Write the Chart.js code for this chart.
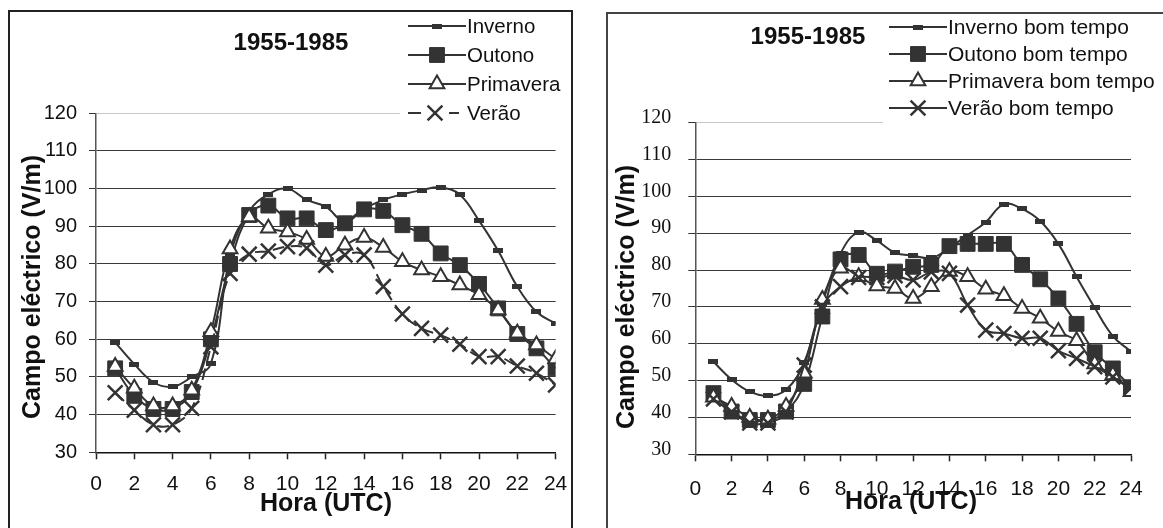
<!DOCTYPE html>
<html>
<head>
<meta charset="utf-8">
<script src="https://cdn.jsdelivr.net/npm/chart.js@4.4.0/dist/chart.umd.min.js"></script>
<style>
  html, body { margin: 0; padding: 0; background: #fff; }
  body { width: 1163px; height: 528px; position: relative; overflow: hidden; }
  .panel { position: absolute; box-sizing: border-box; border: 2px solid #222; }
  #boxA { left: 8px; top: 10px; width: 565px; height: 540px; }
  #boxB { left: 606px; top: 12px; width: 580px; height: 540px; border-color: #444; }
  canvas { position: absolute; top: 0; }
  #chartA { left: 0; }
  #chartB { left: 590px; }
</style>
</head>
<body>
<div class="panel" id="boxA"></div>
<div class="panel" id="boxB"></div>
<canvas id="chartA" width="590" height="528"></canvas>
<canvas id="chartB" width="573" height="528"></canvas>

<script>
// hours of the day (UTC)
const hours = [1, 2, 3, 4, 5, 6, 7, 8, 9, 10, 11, 12, 13, 14, 15, 16, 17, 18, 19, 20, 21, 22, 23, 24];
const xTickValues = [0, 2, 4, 6, 8, 10, 12, 14, 16, 18, 20, 22, 24];
const yTickValues = [30, 40, 50, 60, 70, 80, 90, 100, 110, 120];

const titleText = "1955-1985";
const xTitle = "Hora (UTC)";
const yTitle = "Campo eléctrico (V/m)";

// left chart: all days
const labelsA = ["Inverno", "Outono", "Primavera", "Verão"];
const invernoA = [59.2, 53.4, 48.6, 47.4, 50, 53.5, 82, 94, 98.5, 100, 97, 95.2, 91.2, 94.6, 97, 98.5, 99.6, 100.3, 98.4, 91.5, 83.5, 74, 67.3, 64.2];
const outonoA = [52.3, 45, 41.5, 41.5, 46, 60, 80, 93, 95.5, 92.1, 92.1, 89, 90.8, 94.5, 94.1, 90.3, 88, 82.8, 79.7, 74.7, 68.2, 61.4, 57.6, 52.3];
const primaveraA = [52.8, 47, 42.3, 42.3, 46.5, 62, 84, 92.5, 89.5, 88.5, 86.5, 82, 85, 87, 84.4, 80.6, 78.4, 76.6, 74.4, 71.8, 67.8, 61.6, 58.5, 54.8];
const veraoA = [45.8, 41.2, 37.3, 37.3, 41.7, 58, 77.5, 82.6, 83.4, 84.6, 84.2, 79.7, 82.4, 82.4, 74, 66.7, 62.9, 61.1, 58.7, 55.4, 55.4, 52.9, 51, 47.9];

// right chart: fair weather days
const labelsB = ["Inverno bom tempo", "Outono bom tempo", "Primavera bom tempo", "Verão bom tempo"];
const invernoB = [55.1, 50.3, 47, 45.9, 47.5, 55, 71, 84.5, 90.3, 88, 84.7, 83.9, 83.3, 86, 89.5, 93, 97.9, 96.6, 93.3, 87.1, 78.2, 69.8, 62.1, 57.9];
const outonoB = [46.6, 41.6, 39.3, 39.3, 41.6, 49.1, 67.4, 82.9, 84.1, 79, 79.6, 80.9, 81.4, 86.5, 87.1, 87.1, 87.1, 81.4, 77.5, 72.3, 65.4, 57.7, 53.3, 48.2];
const primaveraB = [45.5, 43, 40, 39.5, 43, 52, 72, 80.5, 78.2, 75.7, 75, 72.3, 75.5, 79.6, 78.2, 74.8, 73, 69.6, 66.9, 63.3, 60.8, 54.5, 51.5, 47];
const veraoB = [45, 41.5, 38.5, 38.5, 41.5, 54.2, 70, 75.5, 78, 78, 78.5, 77.3, 79.5, 79.1, 70.5, 63.7, 62.8, 61.5, 61.5, 58.1, 56, 53.8, 51, 48];

const INK = '#333';
const SANS = '"Liberation Sans", Arial, sans-serif';
const SERIF = '"Liberation Serif", "Times New Roman", serif';

// small flat marker used by the winter series
const smallRect = document.createElement('canvas');
smallRect.width = 10;
smallRect.height = 5;
(function () {
  const c = smallRect.getContext('2d');
  c.fillStyle = INK;
  c.fillRect(0, 0, 10, 5);
})();

function series(label, values, kind, dashed) {
  const ds = {
    label: label,
    data: hours.map((h, i) => ({x: h, y: values[i]})),
    borderColor: INK,
    borderWidth: 2,
    tension: 0.4,
    pointBorderColor: INK,
    pointBackgroundColor: INK,
    pointBorderWidth: 1,
    borderDash: dashed ? [12, 6] : []
  };
  if (kind === 'small') { ds.pointStyle = smallRect; ds.pointRadius = 4; ds.order = 4; }
  if (kind === 'square') { ds.pointStyle = 'rect'; ds.pointRadius = 10.5; ds.order = 3; }
  if (kind === 'tri') { ds.pointStyle = 'triangle'; ds.pointRadius = 8.5; ds.pointBackgroundColor = '#fff'; ds.pointBorderWidth = 2; ds.order = 2; }
  if (kind === 'x') { ds.pointStyle = 'crossRot'; ds.pointRadius = 10.5; ds.pointBorderWidth = 2.5; ds.order = 1; }
  return ds;
}

// titles, axis titles and the legend, placed in page coordinates
const decor = {
  id: 'decor',
  afterDraw(chart, args, o) {
    const ctx = chart.ctx;
    const dx = o.offsetX;
    ctx.save();
    ctx.fillStyle = '#fff';
    ctx.fillRect(o.legendBox[0] - dx, o.legendBox[1], o.legendBox[2], o.legendBox[3]);

    ctx.fillStyle = '#111';
    ctx.textAlign = 'center';
    ctx.textBaseline = 'middle';
    ctx.font = 'bold 24px ' + SANS;
    ctx.fillText(titleText, o.title[0] - dx, o.title[1]);
    ctx.font = 'bold 25px ' + SANS;
    ctx.fillText(xTitle, o.xTitle[0] - dx, o.xTitle[1]);
    ctx.save();
    ctx.translate(o.yTitle[0] - dx, o.yTitle[1]);
    ctx.rotate(-Math.PI / 2);
    ctx.fillText(yTitle, 0, 0);
    ctx.restore();

    // legend, in dataset order
    ctx.font = o.legendFont + 'px ' + SANS;
    ctx.textAlign = 'left';
    chart.data.datasets.forEach((ds, i) => {
      const y = o.legendY + i * o.legendGap;
      const x0 = o.legendLine[0] - dx;
      const x1 = o.legendLine[1] - dx;
      const mx = (x0 + x1) / 2;
      ctx.strokeStyle = ds.borderColor;
      ctx.lineWidth = ds.borderWidth;
      ctx.beginPath();
      if (ds.borderDash.length) {
        // dashed series: short line, marker, short line
        ctx.moveTo(x0, y); ctx.lineTo(x0 + 13, y);
        ctx.moveTo(mx + 12, y); ctx.lineTo(mx + 22, y);
      } else {
        ctx.moveTo(x0, y); ctx.lineTo(x1, y);
      }
      ctx.stroke();
      const px = ds.borderDash.length ? mx - 2 : mx;
      ctx.fillStyle = ds.pointBackgroundColor;
      ctx.strokeStyle = ds.pointBorderColor;
      ctx.lineWidth = ds.pointBorderWidth;
      Chart.helpers.drawPoint(ctx, {pointStyle: ds.pointStyle, radius: ds.pointRadius, rotation: 0, borderWidth: ds.pointBorderWidth}, px, y);
      ctx.fillStyle = '#111';
      ctx.fillText(ds.label, x1 + 1, y + 1);
    });
    ctx.restore();
  }
};

function makeChart(id, labels, data, dashedSummer, cfg) {
  return new Chart(document.getElementById(id), {
    type: 'line',
    data: {
      datasets: [
        series(labels[0], data[0], 'small', false),
        series(labels[1], data[1], 'square', false),
        series(labels[2], data[2], 'tri', false),
        series(labels[3], data[3], 'x', dashedSummer)
      ]
    },
    options: {
      responsive: false,
      animation: false,
      events: [],
      layout: {padding: {left: 0, top: cfg.top, right: cfg.right, bottom: 0}},
      plugins: {
        legend: {display: false},
        tooltip: {enabled: false},
        decor: cfg.decor
      },
      scales: {
        x: {
          type: 'linear',
          min: 0,
          max: 24,
          afterBuildTicks: s => { s.ticks = xTickValues.map(v => ({value: v})); },
          afterFit: s => { s.height = cfg.xHeight; },
          grid: {drawOnChartArea: false, drawTicks: true, tickLength: 7, tickColor: '#222', tickWidth: 1.5},
          border: {color: '#111', width: 1.5},
          ticks: {font: {family: SANS, size: 21}, color: '#111', padding: cfg.xPad, maxRotation: 0, autoSkip: false}
        },
        y: {
          min: 30,
          max: 120,
          afterBuildTicks: s => { s.ticks = yTickValues.map(v => ({value: v})); },
          afterFit: s => { s.width = cfg.yWidth; },
          grid: {
            color: c => (c.tick && c.tick.value === 120) ? '#c8c8c8' : '#3a3a3a',
            lineWidth: 1,
            tickLength: 7,
            tickColor: '#333'
          },
          border: {color: '#555', width: 1.5},
          ticks: {font: {family: cfg.yFont, size: 20}, color: '#111', padding: cfg.yPad, labelOffset: cfg.yLabelOffset}
        }
      }
    },
    plugins: [decor]
  });
}

makeChart('chartA', labelsA, [invernoA, outonoA, primaveraA, veraoA], true, {
  top: 113.3, right: 34.4, xHeight: 75.7, yWidth: 96, xPad: 12, yPad: 12, yLabelOffset: 0, yFont: SANS,
  decor: {
    offsetX: 0,
    title: [291, 43],
    xTitle: [326, 504],
    yTitle: [33, 287],
    legendBox: [400, 14, 168, 112],
    legendFont: 20.5,
    legendY: 26,
    legendGap: 29,
    legendLine: [408, 466]
  }
});

makeChart('chartB', labelsB, [invernoB, outonoB, primaveraB, veraoB], false, {
  top: 122.7, right: 32, xHeight: 73.7, yWidth: 105.3, xPad: 15, yPad: 17, yLabelOffset: -5, yFont: SERIF,
  decor: {
    offsetX: 590,
    title: [808, 37],
    xTitle: [911, 502],
    yTitle: [627, 297],
    legendBox: [883, 15, 290, 113],
    legendFont: 21,
    legendY: 27,
    legendGap: 27,
    legendLine: [889, 947]
  }
});
</script>
</body>
</html>
